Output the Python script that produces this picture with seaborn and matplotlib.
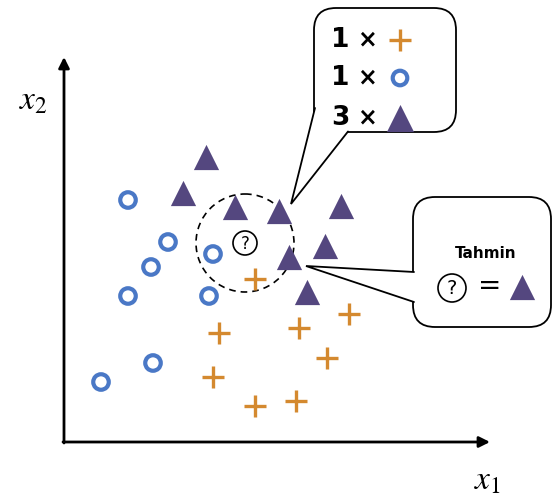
import matplotlib
matplotlib.use("Agg")
import matplotlib.pyplot as plt
import seaborn as sns
from matplotlib.patches import FancyBboxPatch, Circle, Polygon

# ==== DATA (feature space coordinates) ====
circle_x1 = [128, 168, 151, 128, 213, 209, 153, 101]
circle_x2 = [200, 242, 267, 296, 254, 296, 363, 382]
tri_x1 = [206, 183, 235, 279, 341, 325, 289, 307]
tri_x2 = [157, 193, 207, 211, 206, 246, 257, 292]
plus_x1 = [255, 299, 349, 219, 213, 327, 255, 296]
plus_x2 = [279, 328, 314, 333, 377, 358, 406, 401]
query = (245, 243)
vote_counts = ["1", "1", "3"]

orange = "#d4892f"
blue = "#4a78c6"
purple = "#54477f"

sns.set_style("white")
plt.rcParams["mathtext.fontset"] = "stix"
plt.rcParams["text.color"] = "black"

fig = plt.figure(figsize=(5.53, 4.95), dpi=100)
ax = fig.add_axes([0, 0, 1, 1])
ax.set_xlim(0, 553)
ax.set_ylim(495, 0)
ax.axis("off")

# ==== POINTS ====
sns.scatterplot(x=circle_x1, y=circle_x2, marker="o", s=125, facecolors="none",
                edgecolor=blue, linewidth=3, ax=ax, zorder=3)
sns.scatterplot(x=tri_x1, y=tri_x2, marker="^", s=330, color=purple,
                linewidth=0, ax=ax, zorder=3)
sns.scatterplot(x=plus_x1, y=plus_x2, marker="+", s=230, color=orange,
                linewidth=2.4, ax=ax, zorder=3)

# query point + neighbourhood
ax.add_patch(Circle(query, 49, fill=False, ls=(0, (4, 3)), lw=1.2, color="black", zorder=2))
ax.add_patch(Circle(query, 12, fill=False, lw=1.2, color="black", zorder=4))
ax.text(query[0], query[1] + 1, "?", ha="center", va="center", fontsize=12,
        color="black", zorder=5)

# ==== AXES ARROWS ====
arrow = dict(arrowstyle="-|>", lw=2, color="black", mutation_scale=16, shrinkA=0, shrinkB=0)
ax.annotate("", xy=(64, 57), xytext=(64, 443), arrowprops=arrow)
ax.annotate("", xy=(490, 442), xytext=(63, 442), arrowprops=arrow)
ax.text(33, 100, "$x_2$", fontsize=24, ha="center", va="center", color="black")
ax.text(487, 480, "$x_1$", fontsize=24, ha="center", va="center", color="black")


def callout(x0, y0, x1, y1, base1, tip, base2):
    ax.add_patch(FancyBboxPatch((x0, y0), x1 - x0, y1 - y0,
                                boxstyle="round,pad=0,rounding_size=22",
                                fc="white", ec="black", lw=1.3, zorder=6))
    ax.add_patch(Polygon([base1, tip, base2], closed=True, fc="white", ec="none", zorder=7))
    ax.plot([base1[0], tip[0], base2[0]], [base1[1], tip[1], base2[1]],
            color="black", lw=1.3, zorder=8, solid_joinstyle="miter")


# ==== CALLOUT 1: votes ====
callout(314, 8, 456, 132, (315, 108), (291, 204), (348, 131.5))
rows_y = [40, 78, 118]
for cnt, yy in zip(vote_counts, rows_y):
    ax.text(340, yy, cnt, fontsize=19, fontweight="bold", ha="center", va="center",
            color="black", zorder=9)
    ax.text(367, yy, "×", fontsize=17, fontweight="bold", ha="center", va="center",
            color="black", zorder=9)
ax.scatter([400], [rows_y[0]], marker="+", s=260, color=orange, linewidth=2.4, zorder=9)
ax.scatter([400], [rows_y[1]], marker="o", s=110, facecolors="none", edgecolors=blue, linewidth=3, zorder=9)
ax.scatter([400], [rows_y[2]], marker="^", s=380, color=purple, linewidth=0, zorder=9)

# ==== CALLOUT 2: prediction ====
callout(413, 197, 551, 327, (414, 272), (306, 266), (414, 302))
ax.text(486, 254, "Tahmin", fontsize=11, fontweight="bold", ha="center", va="center",
        color="black", zorder=9)
ax.add_patch(Circle((452, 288), 14, fill=False, lw=1.2, color="black", zorder=9))
ax.text(452, 289, "?", fontsize=14, ha="center", va="center", color="black", zorder=9)
ax.text(490, 286, "=", fontsize=20, ha="center", va="center", color="black", zorder=9)
ax.scatter([522], [287], marker="^", s=330, color=purple, linewidth=0, zorder=9)

fig.savefig("out.png", dpi=100)
